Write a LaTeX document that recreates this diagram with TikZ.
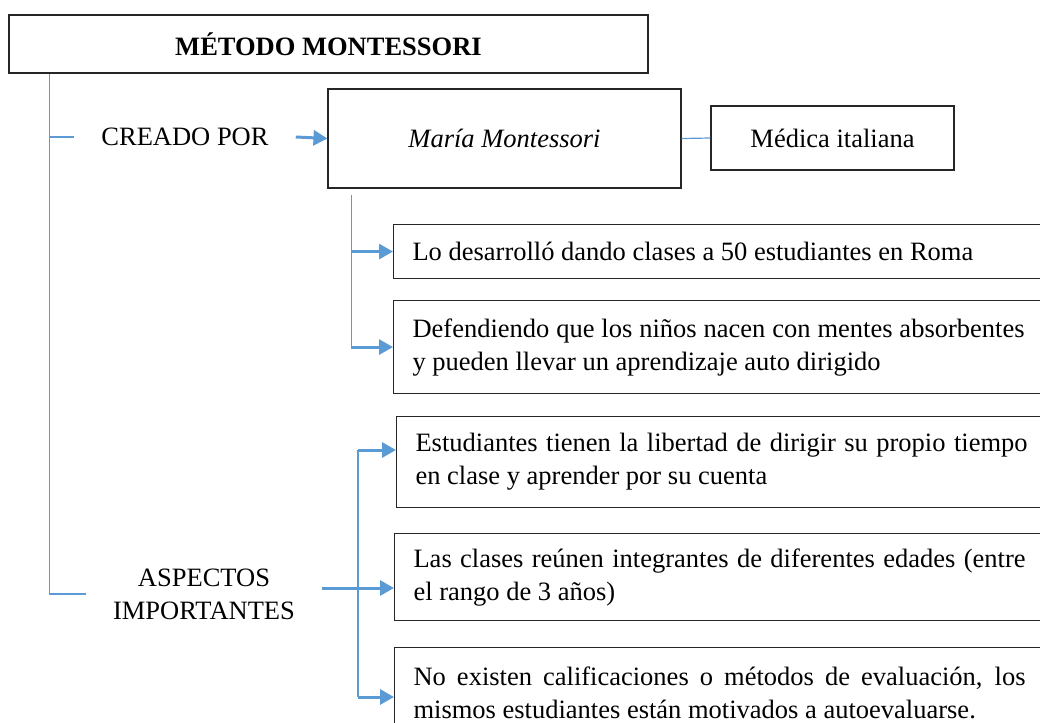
\documentclass[tikz,border=0pt]{standalone}
\usepackage{fontspec}
\setmainfont{Liberation Serif}
\usetikzlibrary{arrows.meta}
\definecolor{linkblue}{RGB}{91,155,213}
\hyphenpenalty=10000
\exhyphenpenalty=10000

\begin{document}
\begin{tikzpicture}[x=1pt,y=-1pt,
  font=\fontsize{26.5}{33}\selectfont,
  box/.style={draw=black!85,line width=1.1pt,inner sep=0pt},
  textbox/.style={box,anchor=north west,text width=612pt,align=justify,inner xsep=19pt,inner ysep=0pt},
  tree/.style={draw=linkblue,line width=1.2pt},
  link/.style={draw=linkblue,line width=3pt,-{Triangle[length=14pt,width=15pt]}},
  label/.style={inner xsep=27pt,inner ysep=2pt,align=center}]
\useasboundingbox (0,0) rectangle (1040,722);
\clip (0,0) rectangle (1040,722);

\node[box,minimum width=639pt,minimum height=58pt] (titulo) at (328.5,44) {\bfseries MÉTODO MONTESSORI};
\node[label] (creado) at (185,137) {CREADO POR};
\node[box,minimum width=353pt,minimum height=99pt] (maria) at (504.5,138.5) {\itshape María Montessori};
\node[box,minimum width=243pt,minimum height=64pt] (medica) at (832.5,138) {Médica italiana};

\node[textbox,minimum height=54pt] (roma) at (393,224) {Lo desarrolló dando clases a 50 estudiantes en Roma};
\node[textbox,minimum height=93pt] (mentes) at (393,300) {Defendiendo que los niños nacen con mentes absorbentes y pueden llevar un aprendizaje auto dirigido};

\node[label] (aspectos) at (204,594) {ASPECTOS\\IMPORTANTES};
\node[textbox,minimum height=91pt] (libertad) at (396,416) {Estudiantes tienen la libertad de dirigir su propio tiempo en clase y aprender por su cuenta};
\node[textbox,minimum height=87pt] (edades) at (394,533) {Las clases reúnen integrantes de diferentes edades (entre el rango de 3 años)};
\node[textbox,minimum height=90pt] (evaluacion) at (394,647) {No existen calificaciones o métodos de evaluación, los mismos estudiantes están motivados a autoevaluarse.};

\coordinate (tronco) at ([xshift=41pt]titulo.south west);
\draw[tree] (tronco) |- (aspectos.west);
\draw[tree] (tronco |- creado.west) -- (creado.west);
\draw[link] (creado.east) -- (maria.west);
\draw[tree] (maria.east) -- (medica.west);

\coordinate (rama1) at ([xshift=24pt,yshift=-6pt]maria.south west);
\draw[tree] (rama1) -- (rama1 |- mentes.west);
\draw[link] (rama1 |- roma.west) -- (roma.west);
\draw[link] (rama1 |- mentes.west) -- (mentes.west);

\coordinate (rama2) at (358,450);
\coordinate (rama3) at (358,697);
\coordinate (salida) at ([yshift=6pt]aspectos.east);
\draw[tree] (rama2) -- (rama3);
\draw[link] (rama2) -- (rama2 -| libertad.west);
\draw[link] (salida) -- (salida -| edades.west);
\draw[link] (rama3) -- (rama3 -| evaluacion.west);
\end{tikzpicture}
\end{document}
